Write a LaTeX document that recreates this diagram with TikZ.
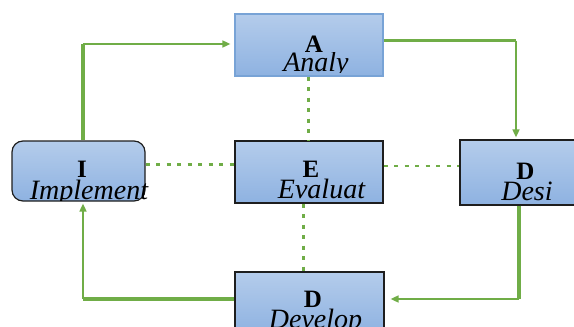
\documentclass[tikz,border=0pt]{standalone}
\usepackage{fontspec}
\setmainfont{Liberation Serif}
\usetikzlibrary{arrows.meta}
\definecolor{flowgreen}{RGB}{112,173,71}
\definecolor{boxtop}{RGB}{180,204,235}
\definecolor{boxbot}{RGB}{142,178,225}
\definecolor{paleedge}{RGB}{120,163,214}
\definecolor{darkedge}{RGB}{30,30,30}
\tikzset{
  stage/.style={rectangle, top color=boxtop, bottom color=boxbot, draw=darkedge,
    line width=1.2pt, inner sep=0pt},
  letter/.style={anchor=base, font=\fontsize{25}{25}\selectfont\bfseries, inner sep=0pt},
  word/.style={anchor=base, font=\fontsize{28}{28}\selectfont\itshape, inner sep=0pt},
  thickleg/.style={draw=flowgreen, line width=3.2pt},
  thinleg/.style={draw=flowgreen, line width=1.6pt, -{Triangle[length=8pt,width=7pt]}},
  link/.style={draw=flowgreen, line width=2.2pt, dash pattern=on 4pt off 6.5pt},
}
\begin{document}
\begin{tikzpicture}[x=1pt, y=-1pt]
\useasboundingbox (0,0) rectangle (574,327);
\clip (0,0) rectangle (574,327);

% stage boxes
\node[stage, draw=paleedge, minimum width=148pt, minimum height=62pt] (A) at (309,45) {};
\node[stage, rounded corners=11pt, minimum width=133pt, minimum height=60pt] (I) at (78.5,171) {};
\node[stage, minimum width=148pt, minimum height=62pt] (E) at (309,172) {};
\node[stage, minimum width=148pt, minimum height=65pt] (Ds) at (534,172.5) {};
\node[stage, minimum width=149pt, minimum height=62pt] (Dv) at (309.5,303) {};

% captions: each line is cut off at its own baseline
\newcommand{\stagetext}[6]{%
  \begin{scope}
    \clip (#1-80,#2-40) rectangle (#1+80,#2+0.5);
    \node[letter] at (#1,#2) {#3};
  \end{scope}
  \begin{scope}
    \clip (#4-80,#2+0.5) rectangle (#4+80,#5+1);
    \node[word] at (#4,#5) {#6};
  \end{scope}}
\stagetext{314}{52}{A}{316}{71.5}{Analy}
\stagetext{82}{177}{I}{89}{199}{Implement}
\stagetext{311}{177.5}{E}{321.5}{198.5}{Evaluat}
\stagetext{525.5}{179}{D}{527}{200}{Desi}
\stagetext{313}{307.5}{D}{315.5}{328.5}{Develop}

% elbow connectors: heavy first leg, light arrowed second leg
\coordinate (c1) at (83,44);
\draw[thickleg] (I.north -| c1) -- (c1);
\draw[thinleg, shorten >=4pt] (c1) -- (c1 -| A.west);

\coordinate (c2) at (516,40.5);
\draw[thickleg] (A.east |- c2) -- (c2);
\draw[thinleg, shorten >=2pt] (c2) -- (c2 |- Ds.north);

\coordinate (c3) at (519,299);
\draw[thickleg] (Ds.south -| c3) -- (c3);
\draw[thinleg, shorten >=6pt] (c3) -- (c3 -| Dv.east);

\coordinate (c4) at (83,299);
\draw[thickleg] (Dv.west |- c4) -- (c4);
\draw[thinleg, shorten >=2pt] (c4) -- (c4 |- I.south);

% dotted links to the centre stage
\coordinate (d1) at (308.5,0);
\draw[link] (A.south -| d1) -- (E.north -| d1);
\coordinate (d2) at (0,164.5);
\draw[link] (I.east |- d2) -- (E.west |- d2);
\coordinate (d3) at (0,166);
\draw[link] (E.east |- d3) -- (Ds.west |- d3);
\coordinate (d4) at (303.5,0);
\draw[link] (E.south -| d4) -- (Dv.north -| d4);
\end{tikzpicture}
\end{document}
